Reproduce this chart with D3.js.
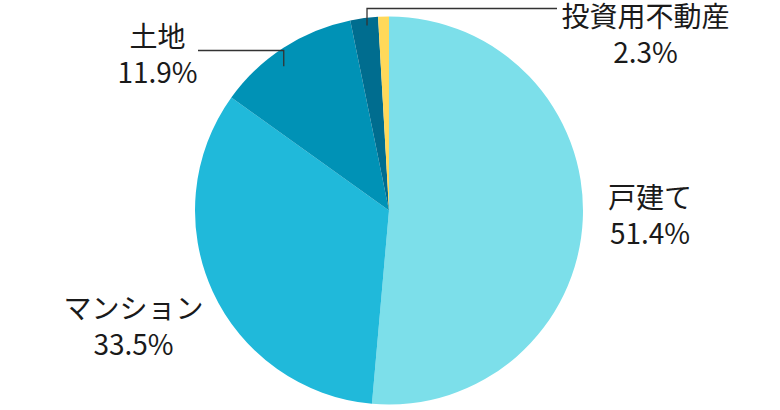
<!DOCTYPE html>
<html>
<head>
<meta charset="utf-8">
<script src="https://cdn.jsdelivr.net/npm/d3@7"></script>
<style>
  body { margin: 0; background: #fff; }
  svg { display: block; font-family: "Noto Sans CJK JP", "Noto Sans", sans-serif; }
</style>
</head>
<body>
<svg id="chart" width="780" height="410"></svg>
<script>
// data
const categories = ["戸建て", "マンション", "土地", "投資用不動産", "その他"];
const shares = [51.4, 33.5, 11.9, 2.3, 0.9];
const colors = ["#7cdfea", "#20b9da", "#0092b6", "#006d8f", "#ffd95a"];
const shownLabels = ["戸建て", "マンション", "土地", "投資用不動産"];

const width = 780, height = 410;
const cx = 389, cy = 210.5, radius = 194;

const svg = d3.select("#chart");
const g = svg.append("g").attr("transform", `translate(${cx},${cy})`);

const pie = d3.pie().sort(null).value(d => d.value);
const arcs = pie(categories.map((c, i) => ({ name: c, value: shares[i], color: colors[i] })));

const arc = d3.arc().innerRadius(0).outerRadius(radius);

g.selectAll("path")
  .data(arcs)
  .join("path")
  .attr("d", arc)
  .attr("fill", d => d.data.color);

// label layout, relative to the pie centre (y = baseline of first line)
const labelPos = {
  "戸建て":       { x: 261, y: -2.5 },
  "マンション":   { x: -255.5, y: 108.5 },
  "土地":         { x: -231.5, y: -163.5, leader: true, lineY: -160, lineX0: -191, r: 0.92, shift: -3.2 },
  "投資用不動産": { x: 256.5, y: -183.5, leader: true, lineY: -202, lineX1: 168, r: 0.96, shift: 0.6 }
};

const fontSize = 28, lineGap = 36;

arcs.filter(d => shownLabels.includes(d.data.name)).forEach(d => {
  const p = labelPos[d.data.name];
  const t = g.append("text")
    .attr("text-anchor", "middle")
    .attr("font-size", fontSize)
    .attr("fill", "#1a1a1a");
  t.append("tspan").attr("x", p.x).attr("y", p.y).text(d.data.name);
  t.append("tspan").attr("x", p.x).attr("y", p.y + lineGap).text(d3.format(".1f")(d.data.value) + "%");

  if (p.leader) {
    const mid = (d.startAngle + d.endAngle) / 2 + p.shift * Math.PI / 180;
    const px = Math.sin(mid) * radius * p.r;
    const py = -Math.cos(mid) * radius * p.r;
    const pts = p.lineX0 !== undefined
      ? [[p.lineX0, p.lineY], [px, p.lineY], [px, py]]
      : [[px, py], [px, p.lineY], [p.lineX1, p.lineY]];
    g.append("path")
      .attr("d", d3.line()(pts))
      .attr("fill", "none")
      .attr("stroke", "#333")
      .attr("stroke-width", 1.3);
  }
});
</script>
</body>
</html>
